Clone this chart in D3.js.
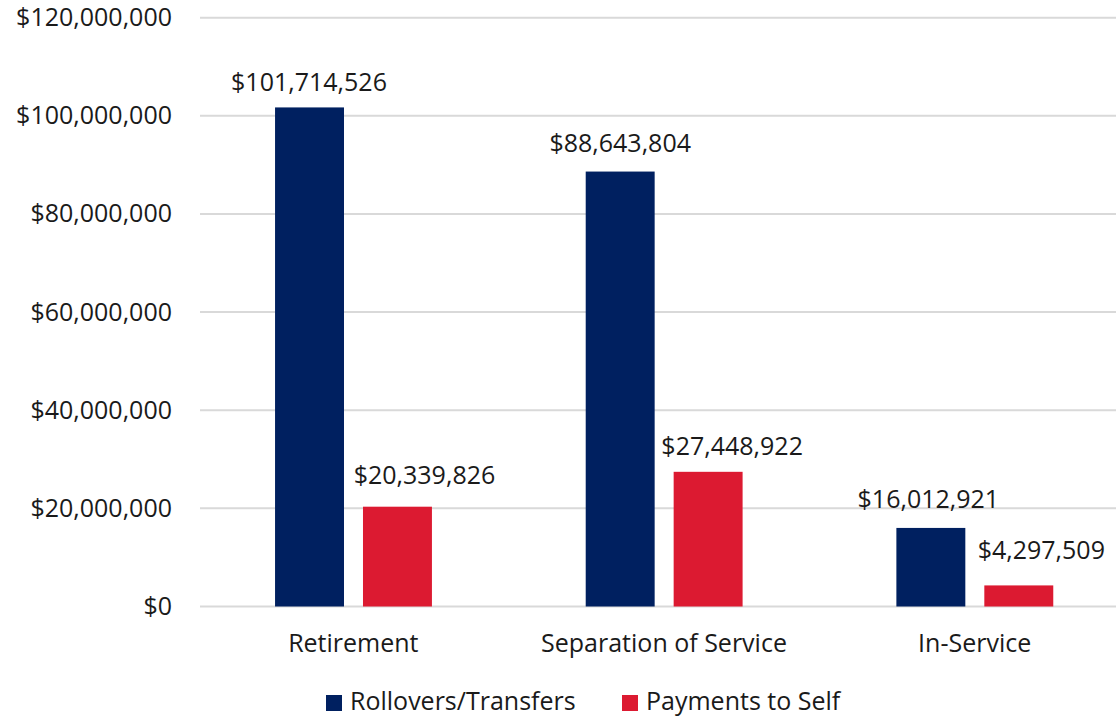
<!DOCTYPE html>
<html>
<head>
<meta charset="utf-8">
<script src="https://cdn.jsdelivr.net/npm/d3@7"></script>
<style>
  html, body { margin: 0; padding: 0; background: #fff; }
  svg { display: block; font-family: "Open Sans", sans-serif; }
</style>
</head>
<body>
<div id="chart"></div>
<script>
// chart data
const categories = ['Retirement', 'Separation of Service', 'In-Service'];
const seriesNames = ['Rollovers/Transfers', 'Payments to Self'];
const rollovers = [101714526, 88643804, 16012921];
const payments = [20339826, 27448922, 4297509];
const yTicks = [0, 20000000, 40000000, 60000000, 80000000, 100000000, 120000000];
const colors = ['#002060', '#dc1a31'];

// hand-placed label nudges (dx from bar centre, gap above bar top), same order as the bars
const labelNudge = [[-0.5, 16], [27, 22.5], [0, 20], [24, 16.5], [-2.5, 20], [22.5, 26]];

(function () {
   const width = 1116;
   const height = 717;
   const fontSize = 25;
   const textColor = '#1a1a1a';

   const svg = d3.select('#chart')
      .append('svg')
      .attr('width', width)
      .attr('height', height);

   const fmt = d => '$' + d3.format(',')(d);

   // scales
   const x = d3.scaleBand()
      .domain(categories)
      .range([198, 1130]);

   const y = d3.scaleLinear()
      .domain([0, 120000000])
      .range([606.5, 17.7]);

   const xInner = d3.scaleBand()
      .domain(seriesNames)
      .range([x.bandwidth() * 0.248, x.bandwidth() * 0.753])
      .paddingInner(0.216);

   // gridlines
   svg.append('g')
      .selectAll('line')
      .data(yTicks)
      .join('line')
      .attr('x1', 200)
      .attr('x2', width)
      .attr('y1', d => y(d))
      .attr('y2', d => y(d))
      .attr('stroke', '#d9d9d9')
      .attr('stroke-width', 2);

   // y axis labels
   const yAxis = svg.append('g')
      .attr('transform', 'translate(172,0)')
      .call(d3.axisLeft(y).tickValues(yTicks).tickFormat(fmt).tickSize(0).tickPadding(0));
   yAxis.select('.domain').remove();
   yAxis.selectAll('text')
      .attr('font-family', '"Open Sans", sans-serif')
      .attr('font-size', fontSize)
      .attr('fill', textColor);

   // x axis labels
   const xAxis = svg.append('g')
      .attr('transform', 'translate(0,652)')
      .call(d3.axisBottom(x).tickSize(0).tickPadding(0));
   xAxis.select('.domain').remove();
   xAxis.selectAll('text')
      .attr('dy', 0)
      .attr('font-family', '"Open Sans", sans-serif')
      .attr('font-size', fontSize)
      .attr('fill', textColor);

   // rows for the bars
   const rows = [];
   categories.forEach((c, i) => {
      rows.push({ cat: c, series: seriesNames[0], value: rollovers[i], color: colors[0] });
      rows.push({ cat: c, series: seriesNames[1], value: payments[i], color: colors[1] });
   });

   const bars = svg.append('g')
      .selectAll('g')
      .data(rows)
      .join('g')
      .attr('transform', d => 'translate(' + (x(d.cat) + xInner(d.series)) + ',0)');

   bars.append('rect')
      .attr('x', 0)
      .attr('width', xInner.bandwidth())
      .attr('y', d => y(d.value))
      .attr('height', d => y(0) - y(d.value))
      .attr('fill', d => d.color);

   bars.append('text')
      .attr('x', (d, i) => xInner.bandwidth() / 2 + labelNudge[i][0])
      .attr('y', (d, i) => y(d.value) - labelNudge[i][1])
      .attr('text-anchor', 'middle')
      .attr('font-size', fontSize)
      .attr('fill', textColor)
      .text(d => fmt(d.value));

   // legend
   const legendX = [326, 622];
   const legend = svg.append('g')
      .selectAll('g')
      .data(seriesNames)
      .join('g')
      .attr('transform', (d, i) => 'translate(' + legendX[i] + ',695)');

   legend.append('rect')
      .attr('width', 16)
      .attr('height', 16)
      .attr('fill', (d, i) => colors[i]);

   legend.append('text')
      .attr('x', 24)
      .attr('y', 15)
      .attr('font-size', fontSize)
      .attr('fill', textColor)
      .text(d => d);
})();
</script>
</body>
</html>
